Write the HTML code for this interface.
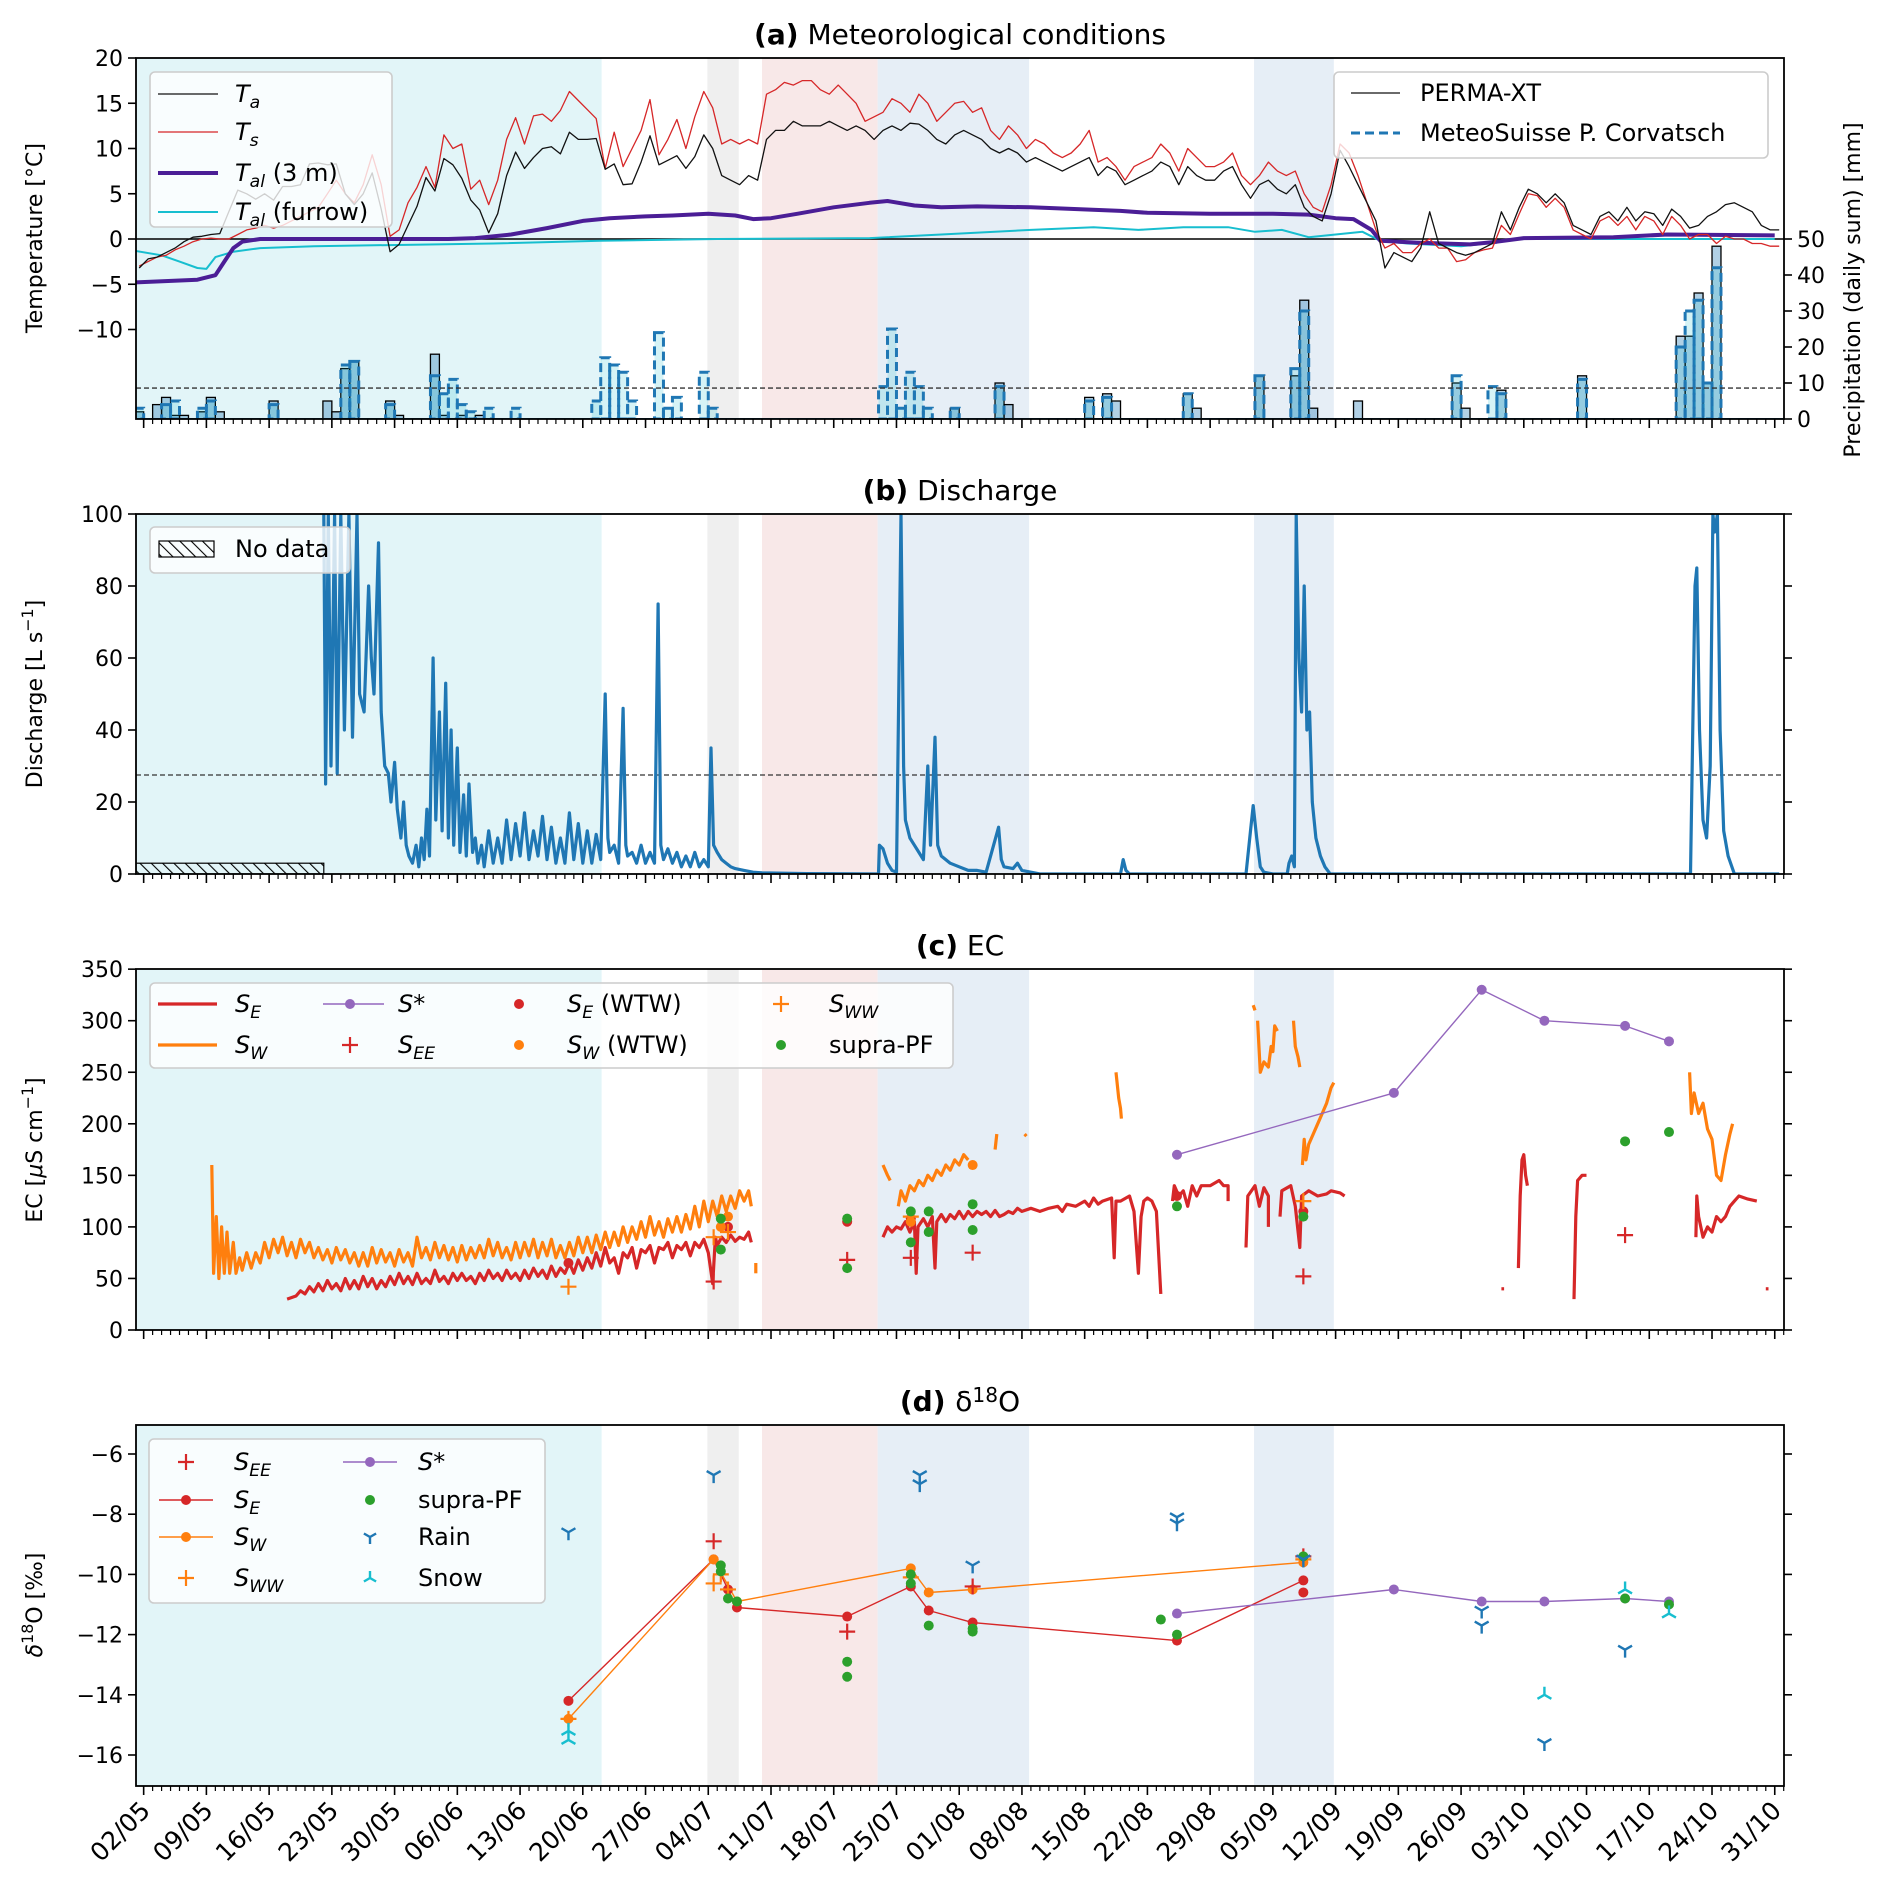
<!DOCTYPE html>
<html><head><meta charset="utf-8">
<style>
html,body{margin:0;padding:0;background:#fff;}
svg{display:block;font-family:"DejaVu Sans","Liberation Sans",sans-serif;}
</style></head>
<body>
<svg id="chart" xmlns="http://www.w3.org/2000/svg" width="1892" height="1894" viewBox="0 0 1892 1894"></svg>
<script>
// ---------- DATA ----------
const tickLabels = ["02/05","09/05","16/05","23/05","30/05","06/06","13/06","20/06","27/06","04/07","11/07","18/07","25/07","01/08","08/08","15/08","22/08","29/08","05/09","12/09","19/09","26/09","03/10","10/10","17/10","24/10","31/10"];
const tempTicks = [20,15,10,5,0,-5,-10];
const precTicks = [0,10,20,30,40,50];
const qTicks = [0,20,40,60,80,100];
const ecTicks = [0,50,100,150,200,250,300,350];
const dTicks = [-6,-8,-10,-12,-14,-16];
const periods = [[0.1,52.1,"#e2f5f8","snowmelt-period"],[63.9,67.4,"#efefef","gray-period"],[70,82.9,"#f8e8e8","pink-period"],[82.9,99.8,"#e6eef6","blue-period-1"],[124.9,133.8,"#e6eef6","blue-period-2"]];
const Ta = [-3.2,-2.2,-2,-1.5,-1,-0.3,0.2,0.3,0.5,0.6,3,5.4,5,4.4,5,4.3,5.8,5.8,6,8.3,8.4,8.2,8.3,5,3.8,5,7.3,3.3,-1.4,-0.6,1.5,3.6,6.8,5.3,8.9,8.2,6.7,4.3,3.2,0.7,2.8,7,9.6,7.8,9,10,10.2,9.4,11.8,11,11,11.1,7.7,8.3,6,6.1,8.5,11.4,8.2,8.7,9.2,7.8,9.1,11.5,10,7,6.5,6,7,6.5,11,12,12,13,12.5,12.5,12.5,13,12.5,12,12.5,12,11,12,12.5,12,12.8,12.7,12,11,10.5,11.5,12,11.5,11,10,9.5,10,9.5,8.5,9,8.5,8,7.5,8,8.5,9,7,8,7.5,6,6.5,7,7.5,8.5,8,6,8,7,6.5,6.5,7.5,8,6,4.5,6,6.5,5.5,5,6,3.5,2.5,2,5,9.8,8,6,4,2,-3.2,-1.5,-2,-2.5,-1,3,-0.5,-1,-1.5,-1.8,-1.5,-1,-0.5,3,1,3.5,5.5,5,4,5,4,1.5,1,0.5,2.5,3,2,3.5,2,3,2.8,1.5,3.3,2.5,1.2,1.5,2.5,3,3.8,4,3.5,3,1.5,1,1];
const Ts = [-3,-2.5,-2,-1.8,-1.2,-0.8,-0.3,0,0.1,0,0,0.5,1,1.2,1.5,1.2,1.5,2,2.5,3,3.5,5,6.5,5,4,6,9.3,6,0.3,1,4,5.7,8,5.7,11.5,10,10.5,5.5,6.5,3.8,6.5,11,13.4,10.5,13.6,13.8,13,14.2,16.3,15.3,14.3,13.3,7.8,11.8,8,10,12,15.4,9.3,11,13.2,10,13.5,16.3,14.5,10.5,11,10.5,11,10.5,16,16.5,17.3,17,17.5,17.5,16.5,16,17,16,15,13,13.5,14,15.5,15,14,16,15,13,14,15,15.2,14,14.5,12,11,12.5,11.5,10,11,10.5,9.5,9,9.5,10.5,12,8.5,9,8,6.5,8,8.5,9,10.5,9.5,7.5,10,9,8,8,8.5,9.5,7,6,7,8.5,7.5,7,7.5,5,3.5,3,6,10.5,9.5,7,4,1,-1,-0.5,-1.5,-1.5,-0.5,0,-1,-1,-2.5,-2.3,-1.5,-1.2,-1,1.5,0.5,2.8,5,4.8,3.5,4.5,3.5,1,0.5,0,2,2.5,1.5,2.5,1,2.5,2,0.5,2.5,1.5,0,0.5,0.5,-0.5,0.3,0,0,-0.5,-0.5,-0.8,-0.8];
const tal3Days = [0,7,9,10,11,12,14,35,38,42,46,50,53,57,60,64,67,69,71,74,78,82,84,87,90,94,100,110,113,120,127,131,134,136,138,139,143,149,152,155,165,171,183];
const tal3Vals = [-4.8,-4.5,-4,-2.5,-1,-0.3,0,0,0.1,0.5,1.2,2,2.3,2.5,2.6,2.8,2.6,2.2,2.3,2.8,3.5,4,4.2,3.7,3.5,3.6,3.5,3.1,2.9,2.8,2.8,2.7,2.3,2.2,1,-0.2,-0.4,-0.6,-0.3,0.1,0.2,0.5,0.4];
const talFDays = [0,3,5,7,8,9,11,14,20,40,52,65,82,90,100,107,112,117,122,125,128,131,134,137,139,142,148,150,152,155,183];
const talFVals = [-1.3,-1.8,-2.5,-3.2,-3.3,-2,-1.4,-1,-0.8,-0.5,-0.2,0,0.1,0.5,1,1.3,1,1.3,1.3,0.8,1,0.2,0.5,0.8,-0.2,-0.5,-0.8,-0.6,-0.2,0,0];
const permaDays = [0,2,3,4,5,7,8,9,15,21,22,23,24,28,29,33,34,36,38,91,96,97,106,108,109,117,118,125,129,130,131,136,147,148,152,161,172,173,174,175,176];
const permaVals = [2,4,6,1,1,2,6,2,5,5,2,14,16,5,1,18,1,1,1,3,10,4,6,7,5,7,3,12,12,33,3,5,10,3,8,12,23,23,35,10,48];
const meteoDays = [0,3,4,7,8,15,23,24,28,33,34,35,36,37,39,42,51,52,53,54,55,58,59,60,63,64,83,84,85,86,87,88,91,96,106,108,117,125,129,130,147,151,152,161,172,173,174,175,176];
const meteoVals = [3,4,5,3,5,4,15,16,4,12,7,11,4,2,3,3,5,17,15,13,5,24,3,6,13,3,9,25,3,13,9,3,3,9,5,6,7,12,14,30,12,9,7,11,20,30,33,10,42];
const qDays = [21.1,21.3,21.6,21.9,22.3,22.6,23,23.4,23.9,24.3,24.8,25.1,25.6,26.1,26.4,26.7,27.2,27.5,27.9,28.3,28.6,29,29.3,29.7,30,30.3,30.6,31,31.4,31.7,32,32.3,32.6,32.9,33.3,33.6,34,34.3,34.7,35,35.3,35.6,36,36.3,36.7,37,37.3,37.7,38,38.3,38.7,39,39.5,40,40.5,41,41.5,42,42.5,43,43.5,44,44.5,45,45.5,46,46.5,47,47.5,48,48.5,49,49.5,50,50.5,51,51.5,52,52.5,52.8,53,53.5,54,54.5,54.8,55,55.5,56,56.5,57,57.5,58,58.4,58.7,59,59.5,60,60.5,61,61.5,62,62.5,63,63.5,64,64.3,64.6,65,65.5,66,66.5,67,68,69,70,75,83,83.1,83.5,84,84.5,85,85.5,85.8,86,86.5,87,87.5,88,88.5,88.8,89.3,89.6,90,91,92,93,94,95,96.4,96.7,97,98,98.5,99,100,101,110,110.3,110.6,111,124,124.5,124.8,125.2,125.6,126,127,128.6,128.8,129.1,129.4,129.6,129.9,130.2,130.5,130.8,131.1,131.4,131.8,132.3,132.8,133.4,173.6,174.1,174.3,174.6,175,175.4,175.8,176.1,176.3,176.6,176.9,177.3,177.8,178.5,183.5];
const qVals = [100,25,100,30,100,28,100,40,100,38,100,50,45,80,60,50,92,45,30,28,20,31,18,10,20,8,5,3,8,2,10,4,18,5,60,15,45,12,53,10,40,8,35,6,22,5,25,6,10,3,8,2,12,3,10,3,15,4,14,5,17,4,12,5,16,4,13,3,10,3,17,4,14,3,12,3,11,4,50,10,6,8,3,46,8,5,6,3,8,3,6,3,75,8,4,7,3,6,2,5,2,6,2,4,2,35,8,6,4,3,2,1.5,1,0.5,0.3,0.1,0,8,7,3,1,0.5,100,30,15,10,8,6,4,30,8,38,8,5,3,2,1,1,0.5,13,4,2,1.5,3,1,0.5,0,0,4,1,0,0,12,19,10,2,0.5,0,0,3,5,2,100,60,45,80,40,45,20,10,5,2,0,0,80,85,40,15,10,30,100,95,100,40,12,5,0,0];
const seSegs = [
[[17,30],[18,33],[18.5,38],[19,35],[19.5,42],[20,37],[20.5,45],[21,38],[21.5,48],[22,40],[22.5,45],[23,38],[23.5,50],[24,40],[24.5,48],[25,40],[25.5,52],[26,42],[26.5,50],[27,40],[27.5,48],[28,42],[28.5,52],[29,44],[29.5,55],[30,45],[30.5,52],[31,44],[31.5,55],[32,45],[32.5,50],[33,45],[33.5,58],[34,47],[34.5,52],[35,45],[35.5,55],[36,48],[36.5,55],[37,48],[37.5,52],[38,45],[38.5,55],[39,48],[39.5,58],[40,50],[40.5,55],[41,48],[41.5,58],[42,50],[42.5,55],[43,48],[43.5,58],[44,50],[44.5,60],[45,52],[45.5,58],[46,50],[46.5,62],[47,52],[47.5,60],[48,55],[48.5,65],[49,55],[49.5,68],[50,58],[50.5,70],[51,60],[51.5,75],[52,62],[52.5,80],[53,65],[53.5,70],[54,55],[54.5,75],[55,70],[55.5,80],[56,60],[56.5,78],[57,75],[57.5,82],[58,65],[58.5,80],[59,78],[59.5,85],[60,70],[60.5,82],[61,78],[61.5,85],[62,72],[62.5,85],[63,80],[63.5,88],[64,75],[64.5,45],[64.8,90],[65,82],[65.5,90],[66,85],[66.5,92],[67,86],[67.5,90],[68,88],[68.5,95],[68.8,85]],
[[83.5,90],[84,100],[84.5,95],[85,100],[85.5,98],[86,105],[86.5,95],[87,105],[87.2,55],[87.4,100],[88,108],[88.5,100],[89,110],[89.3,60],[89.5,105],[90,112],[90.5,105],[91,112],[91.5,108],[92,115],[92.5,108],[93,115],[93.5,110],[94,115],[94.5,112],[95,115],[95.5,110],[96,116],[96.5,110],[97,112],[97.5,115],[98,113],[98.5,118],[99,115],[100,118],[101,115],[102,118],[103,120],[103.5,115],[104,122],[105,120],[106,125],[106.5,120],[107,128],[107.5,122],[108,125],[109,128],[109.3,70],[109.5,125],[110,125],[111,130],[111.5,115],[112,55],[112.3,110],[112.6,125],[113,128],[113.5,125],[114,115],[114.5,35]],
[[115.8,125],[116,140],[116.5,130],[117,135],[117.5,120],[118,140],[118.5,130],[119,140],[120,140],[121,145],[121.5,140],[122,140],[122,125]],
[[124,80],[124.2,130],[125,140],[125.5,120],[126,138],[126.5,130],[126.5,100]],
[[127.8,110],[128,135],[129,140],[129.5,120],[130,80],[130.2,130],[131,135],[132,130],[133,132],[133.5,135],[134.5,133],[135,130]],
[[152.5,40],[152.8,40]],
[[154.4,60],[154.6,130],[154.8,165],[155,170],[155.2,150],[155.4,140]],
[[160.6,30],[160.8,110],[161,145],[161.5,150],[162,150]],
[[174.2,90],[174.3,130],[174.5,110],[175,90],[175.5,100],[176,95],[176.5,110],[177,105],[177.5,110],[178,120],[178.5,125],[179,130],[180,127],[181,125]],
[[182,40],[182.3,40]]];
const swSegs = [
[[8.6,160],[8.8,55],[9.1,110],[9.4,50],[9.7,100],[10,55],[10.3,95],[10.6,55],[11,85],[11.3,55],[11.7,70],[12,58],[12.5,75],[13,60],[13.5,75],[14,65],[14.5,85],[15,70],[15.5,88],[16,75],[16.5,90],[17,72],[17.5,85],[18,70],[18.5,88],[19,75],[19.5,85],[20,70],[20.5,80],[21,68],[21.5,78],[22,65],[22.5,80],[23,68],[23.5,78],[24,65],[24.5,75],[25,62],[25.5,75],[26,62],[26.5,80],[27,65],[27.5,78],[28,66],[28.5,75],[29,62],[29.5,78],[30,66],[30.5,75],[31,62],[31.5,90],[32,70],[32.5,80],[33,68],[33.5,85],[34,70],[34.5,82],[35,68],[35.5,80],[36,66],[36.5,82],[37,68],[37.5,80],[38,70],[38.5,82],[39,70],[39.5,88],[40,72],[40.5,85],[41,70],[41.5,80],[42,68],[42.5,85],[43,70],[43.5,85],[44,72],[44.5,88],[45,70],[45.5,85],[46,72],[46.5,88],[47,70],[47.5,82],[48,70],[48.5,85],[49,72],[49.5,90],[50,75],[50.5,90],[51,75],[51.5,92],[52,78],[52.5,95],[53,80],[53.5,95],[54,82],[54.5,100],[55,85],[55.5,100],[56,88],[56.5,105],[57,90],[57.5,110],[58,92],[58.5,105],[59,90],[59.5,108],[60,95],[60.5,110],[61,95],[61.5,112],[62,98],[62.5,120],[63,100],[63.5,125],[64,105],[64.5,125],[65,110],[65.5,130],[66,115],[66.5,130],[67,118],[67.5,135],[68,125],[68.5,135],[68.8,120]],
[[69.3,65],[69.3,55]],
[[83.5,160],[84,150],[84.3,145]],
[[85.2,120],[85.5,135],[86,125],[86.5,140],[87,135],[87.5,145],[88,140],[88.5,150],[89,145],[89.5,155],[90,150],[90.5,160],[91,155],[91.5,165],[92,160],[92.5,170],[93,165]],
[[96,175],[96.2,190]],[[99.3,190],[99.5,188]],
[[109.5,250],[109.8,225],[110,215],[110.1,205]],
[[124.8,315],[125,310]],
[[125.3,300],[125.6,250],[126,260],[126.5,255],[126.8,275],[127,270],[127.2,295],[127.5,290]],
[[129.3,300],[129.5,275],[129.8,265],[130,255]],
[[130.3,160],[130.5,185],[130.7,165],[131,180],[131.5,190],[132,200],[132.5,210],[133,220],[133.5,235],[133.8,240]],
[[173.5,250],[173.7,210],[174,230],[174.5,210],[175,220],[175.5,195],[176,185],[176.5,150],[177,145],[177.5,170],[178,190],[178.3,200]]];
const starDays = [116.3,140.5,150.3,157.3,166.3,171.2];
const starEC = [170,230,330,300,295,280];
const seWtwDays = [48.4,66.2,79.5,86.6,116.3,130.4];
const seWtwEC = [65,100,105,108,130,115];
const swWtwDays = [65.4,66.2,86.6,93.5];
const swWtwEC = [100,110,105,160];
const seeEcDays = [64.6,79.5,86.6,93.5,130.4,166.3];
const seeEcVals = [47,68,70,75,52,92];
const swwEcDays = [48.4,64.6,66.2,86.6,130.4];
const swwEcVals = [42,90,95,110,125];
const supraEcDays = [65.4,65.4,79.5,79.5,86.6,86.6,88.6,88.6,93.5,93.5,116.3,130.4,166.3,171.2];
const supraEcVals = [108,78,108,60,115,85,115,95,122,97,120,110,183,192];
const seIsoDays = [48.4,64.6,66.2,67.2,79.5,86.6,88.6,93.5,116.3,130.4];
const seIsoVals = [-14.2,-9.5,-10.5,-11.1,-11.4,-10.4,-11.2,-11.6,-12.2,-10.2];
const swIsoDays = [48.4,64.6,67.2,86.6,88.6,93.5,130.4];
const swIsoVals = [-14.8,-9.5,-10.9,-9.8,-10.6,-10.5,-9.6];
const seeIsoDays = [64.6,79.5,93.5,130.4];
const seeIsoVals = [-8.9,-11.9,-10.4,-9.4];
const swwIsoDays = [48.4,64.6,65.4,66.2,86.6,130.4];
const swwIsoVals = [-14.8,-10.3,-10,-10.5,-10.1,-9.5];
const starIsoDays = [116.3,140.5,150.3,157.3,166.3,171.2];
const starIsoVals = [-11.3,-10.5,-10.9,-10.9,-10.8,-10.9];
const supraIsoDays = [65.4,65.4,66.2,67.2,79.5,79.5,86.6,86.6,88.6,93.5,93.5,114.5,116.3,130.4,166.3,171.2];
const supraIsoVals = [-9.7,-9.9,-10.8,-10.9,-12.9,-13.4,-10.0,-10.3,-11.7,-11.8,-11.9,-11.5,-12.0,-9.4,-10.8,-11.0];
const rainDays = [48.4,64.6,87.6,87.6,93.5,116.3,116.3,130.4,150.3,150.3,157.3,166.3];
const rainVals = [-8.6,-6.7,-6.7,-7.0,-9.7,-8.1,-8.3,-9.5,-11.2,-11.7,-15.6,-12.5];
const snowDays = [48.4,48.4,157.3,166.3,171.2];
const snowVals = [-15.2,-15.5,-14,-10.5,-11.3];

// ---------- SCALES ----------
const L=136, R=1784;
const X = d => 134.7 + 8.962*d;
const P = {a:[58,419], b:[514,874], c:[969,1330], d:[1425,1786]};
const yT = t => 239 - 9.05*t;
const yP = p => 419 - 3.6*p;
const yQ = q => 874 - 3.6*q;
const yE = e => 1330 - 1.031*e;
const yD = v => 1454 + (-6 - v)*30.1;

const NS="http://www.w3.org/2000/svg";
const svg=document.getElementById('chart');
function mk(tag, attrs, parent){const el=document.createElementNS(NS,tag);for(const k in attrs) el.setAttribute(k,attrs[k]);(parent||svg).appendChild(el);return el;}
function grp(name, parent){const g=mk('g',{},parent);


return g;}

const defs=mk('defs',{});
const pat=mk('pattern',{id:'hatch',patternUnits:'userSpaceOnUse',width:8,height:8,patternTransform:'rotate(-45)'},defs);
mk('line',{x1:0,y1:0,x2:0,y2:8,stroke:'#000','stroke-width':2.2},pat);
for(const k of ['a','b','c','d']){const cp=mk('clipPath',{id:'clip'+k},defs);mk('rect',{x:L,y:P[k][0],width:R-L,height:P[k][1]-P[k][0]},cp);}

function polyline(pts, stroke, width, name, parent, extra){
  const el=mk('polyline',Object.assign({points:pts.map(p=>p[0].toFixed(1)+','+p[1].toFixed(1)).join(' '),fill:'none',stroke:stroke,'stroke-width':width,'stroke-linejoin':'round'},extra||{}),parent);
  
  
  return el;
}
function text(x,y,str,size,parent,name,opts){
  const el=mk('text',Object.assign({x:x,y:y,'font-size':size,fill:'#000'},opts||{}),parent);
  el.textContent=str;
  
  
  return el;
}
function dot(x,y,r,color,parent,name){
  const el=mk('circle',{cx:x,cy:y,r:r,fill:color},parent);
  
  
  return el;
}
function plus(x,y,s,color,parent,name){
  const el=mk('path',{d:`M${x-s},${y}H${x+s}M${x},${y-s}V${y+s}`,stroke:color,'stroke-width':2.2,fill:'none'},parent);
  
  
  return el;
}
function tri(x,y,s,color,down,parent,name){
  const k=down?1:-1;
  const el=mk('path',{d:`M${x},${y}V${y+k*s}M${x},${y}L${x-s*0.87},${y-k*s*0.5}M${x},${y}L${x+s*0.87},${y-k*s*0.5}`,stroke:color,'stroke-width':2.4,fill:'none'},parent);
  
  
  return el;
}
function rich(x,y,parts,size,parent,name){
  const el=mk('text',{x:x,y:y,'font-size':size,fill:'#000'},parent);
  
  
  for(const p of parts){const t=mk('tspan',{},el);t.textContent=p[0];
    if(p[1]==='i') t.setAttribute('font-style','italic');
    if(p[1]==='sub'){t.setAttribute('font-style','italic');t.setAttribute('font-size',size*0.72);t.setAttribute('dy',6);}
    if(p[1]==='subup'){t.setAttribute('dy',-6);}
    if(p[1]==='sup'){t.setAttribute('font-size',size*0.72);t.setAttribute('dy',-9);}
    if(p[1]==='supdown'){t.setAttribute('dy',9);}
    if(p[1]==='b') t.setAttribute('font-weight','bold');
  }
  return el;
}

function panelBase(k, name, title){
  const g=grp(name);
  const [t,b]=P[k];
  mk('rect',{x:L,y:t,width:R-L,height:b-t,fill:'#fff'},g);
  for(const pr of periods){
    const r=mk('rect',{x:Math.max(L,X(pr[0])),y:t,width:X(pr[1])-Math.max(L,X(pr[0])),height:b-t,fill:pr[2]},g);
    
    
  }
  const tg=grp('x-axis-ticks-'+k,g);
  for(let d=1; d<=184; d++){
    const major=((d-1)%7===0);
    mk('line',{x1:X(d),x2:X(d),y1:b,y2:b+(major?9:5),stroke:'#000','stroke-width':major?1.6:1.2},tg);
  }
  rich(960, t-14, title, 28, g, 'panel-title-'+k).setAttribute('text-anchor','middle');
  return g;
}
function frame(k,g){
  const [t,b]=P[k];
  const f=mk('rect',{x:L,y:t,width:R-L,height:b-t,fill:'none',stroke:'#000','stroke-width':1.8},g);
  
  
}
function yAxis(k,g,ticks,scale){
  const ag=grp('y-axis-'+k,g);
  for(const v of ticks){
    const y=scale(v);
    mk('line',{x1:L-8,x2:L,y1:y,y2:y,stroke:'#000','stroke-width':1.6},ag);
    text(L-13,y+8,String(v).replace('-','\u2212'),22,ag,'y-tick-label').setAttribute('text-anchor','end');
  }
  return ag;
}
function rightTicks(g,ticks,scale){
  for(const v of ticks){const y=scale(v);mk('line',{x1:R,x2:R+8,y1:y,y2:y,stroke:'#000','stroke-width':1.6},g);}
}
function yLabel(parts,x,y,g,name){
  const el=rich(0,0,parts,22,g,name);
  el.setAttribute('text-anchor','middle');
  el.setAttribute('transform',`translate(${x},${y}) rotate(-90)`);
}
function legendBox(x,y,w,h,g,name){
  const r=mk('rect',{x:x,y:y,width:w,height:h,rx:5,fill:'rgba(255,255,255,0.8)',stroke:'#cccccc','stroke-width':1.6},g);
  
  
}

// ======== PANEL A ========
const ga=panelBase('a','panel-meteorological',[['(a)','b'],[' Meteorological conditions','']]);
const ca=grp('panel-a-plot',ga); ca.setAttribute('clip-path','url(#clipa)');
for(let i=0;i<permaDays.length;i++){
  const r=mk('rect',{x:X(permaDays[i]),y:yP(permaVals[i]),width:8.96,height:yP(0)-yP(permaVals[i]),fill:'rgba(31,119,180,0.35)',stroke:'#000','stroke-width':1.3},ca);
  
  
}
for(let i=0;i<meteoDays.length;i++){
  const r=mk('rect',{x:X(meteoDays[i]),y:yP(meteoVals[i]),width:8.96,height:yP(0)-yP(meteoVals[i]),fill:'rgba(23,190,207,0.18)',stroke:'#1f77b4','stroke-width':3,'stroke-dasharray':'9,5'},ca);
  
  
}
mk('line',{x1:L,x2:R,y1:yP(0),y2:yP(0),stroke:'#1f77b4','stroke-width':2},ca);
const thr=mk('line',{x1:L,x2:R,y1:yP(8.6),y2:yP(8.6),stroke:'#333','stroke-width':1.3,'stroke-dasharray':'5,3'},ca);


mk('line',{x1:L,x2:R,y1:yT(0),y2:yT(0),stroke:'#000','stroke-width':1.6},ca);
polyline(talFDays.map((d,i)=>[X(d),yT(talFVals[i])]),'#17becf',2,'tal-furrow-line',ca);
polyline(tal3Days.map((d,i)=>[X(d),yT(tal3Vals[i])]),'#4b1e96',4,'tal-3m-line',ca);
polyline(Ts.map((v,i)=>[X(i+0.5),yT(v)]),'#d62728',1.3,'ts-line',ca);
polyline(Ta.map((v,i)=>[X(i+0.5),yT(v)]),'#111',1.3,'ta-line',ca);
yAxis('a',ga,tempTicks,yT);
for(const v of precTicks){const y=yP(v);mk('line',{x1:R,x2:R+8,y1:y,y2:y,stroke:'#000','stroke-width':1.6},ga);text(R+13,y+8,String(v),22,ga,'precip-tick-label');}
yLabel([['Temperature [°C]','']],42,238,ga,'temperature-axis-title');
yLabel([['Precipitation (daily sum) [mm]','']],1860,290,ga,'precip-axis-title');
const la=grp('legend-temperature',ga);
legendBox(150,72,242,155,la,'legend-box');
const laItems=[['#111',1.3,[['T','i'],['a','sub']]],['#d62728',1.3,[['T','i'],['s','sub']]],['#4b1e96',4,[['T','i'],['al','sub'],[' (3 m)','subup']]],['#17becf',2,[['T','i'],['al','sub'],[' (furrow)','subup']]]];
[94,132,173,212].forEach((y,i)=>{const it=laItems[i];polyline([[158,y],[218,y]],it[0],it[1],'legend-line',la);rich(235,y+8,it[2],24,la,'legend-label');});
const lb=grp('legend-precip',ga);
legendBox(1334,72,434,86,lb,'legend-box');
polyline([[1351,93],[1400,93]],'#111',1.3,'legend-line',lb);
text(1420,101,'PERMA-XT',24,lb,'legend-label');
polyline([[1351,133],[1400,133]],'#1f77b4',3,'legend-line',lb,{'stroke-dasharray':'9,5'});
text(1420,141,'MeteoSuisse P. Corvatsch',24,lb,'legend-label');
frame('a',ga);

// ======== PANEL B ========
const gb=panelBase('b','panel-discharge',[['(b)','b'],[' Discharge','']]);
const cb=grp('panel-b-plot',gb); cb.setAttribute('clip-path','url(#clipb)');
const nd=mk('rect',{x:L,y:yQ(3),width:X(21.1)-L,height:yQ(0)-yQ(3),fill:'url(#hatch)',stroke:'#000','stroke-width':1.2},cb);


mk('line',{x1:L,x2:R,y1:yQ(27.5),y2:yQ(27.5),stroke:'#333','stroke-width':1.3,'stroke-dasharray':'5,3'},cb);
polyline(qDays.map((d,i)=>[X(d),yQ(Math.min(qVals[i],101))]),'#1f77b4',3.2,'discharge-line',cb);
yAxis('b',gb,qTicks,yQ); rightTicks(gb,qTicks,yQ);
yLabel([['Discharge [L s','' ],['−1','sup'],[']','supdown']],42,694,gb,'discharge-axis-title');
const lgb=grp('legend-discharge',gb);
legendBox(150,527,200,46,lgb,'legend-box');
mk('rect',{x:159,y:541,width:55,height:16,fill:'url(#hatch)',stroke:'#000','stroke-width':1.2},lgb);
text(235,557,'No data',24,lgb,'legend-label');
frame('b',gb);

// ======== PANEL C ========
const gc=panelBase('c','panel-ec',[['(c)','b'],[' EC','']]);
const cc=grp('panel-c-plot',gc); cc.setAttribute('clip-path','url(#clipc)');
for(const s of swSegs) polyline(s.map(p=>[X(p[0]),yE(p[1])]),'#ff7f0e',3.2,'sw-ec-line',cc);
for(const s of seSegs) polyline(s.map(p=>[X(p[0]),yE(p[1])]),'#d62728',3.2,'se-ec-line',cc);
polyline(starDays.map((d,i)=>[X(d),yE(starEC[i])]),'#9467bd',1.4,'sstar-ec-line',cc);
starDays.forEach((d,i)=>dot(X(d),yE(starEC[i]),5,'#9467bd',cc,'sstar-ec-point'));
seWtwDays.forEach((d,i)=>dot(X(d),yE(seWtwEC[i]),5,'#d62728',cc,'se-wtw-point'));
swWtwDays.forEach((d,i)=>dot(X(d),yE(swWtwEC[i]),5,'#ff7f0e',cc,'sw-wtw-point'));
seeEcDays.forEach((d,i)=>plus(X(d),yE(seeEcVals[i]),8,'#d62728',cc,'see-ec-point'));
swwEcDays.forEach((d,i)=>plus(X(d),yE(swwEcVals[i]),8,'#ff7f0e',cc,'sww-ec-point'));
supraEcDays.forEach((d,i)=>dot(X(d),yE(supraEcVals[i]),5,'#2ca02c',cc,'supra-pf-ec-point'));
yAxis('c',gc,ecTicks,yE); rightTicks(gc,ecTicks,yE);
yLabel([['EC [','' ],['μ','i'],['S cm',''],['−1','sup'],[']','supdown']],42,1150,gc,'ec-axis-title');
const lgc=grp('legend-ec',gc);
legendBox(150,983,803,85,lgc,'legend-box');
polyline([[158,1004],[217,1004]],'#d62728',3.2,'legend-line',lgc); rich(235,1012,[['S','i'],['E','sub']],24,lgc,'legend-label');
polyline([[158,1045],[217,1045]],'#ff7f0e',3.2,'legend-line',lgc); rich(235,1053,[['S','i'],['W','sub']],24,lgc,'legend-label');
polyline([[323,1004],[384,1004]],'#9467bd',1.4,'legend-line',lgc); dot(350,1004,5,'#9467bd',lgc,'legend-marker'); rich(398,1012,[['S*','i']],24,lgc,'legend-label');
plus(350,1045,8,'#d62728',lgc,'legend-marker'); rich(398,1053,[['S','i'],['EE','sub']],24,lgc,'legend-label');
dot(519,1004,5,'#d62728',lgc,'legend-marker'); rich(567,1012,[['S','i'],['E','sub'],[' (WTW)','subup']],24,lgc,'legend-label');
dot(519,1045,5,'#ff7f0e',lgc,'legend-marker'); rich(567,1053,[['S','i'],['W','sub'],[' (WTW)','subup']],24,lgc,'legend-label');
plus(781,1004,8,'#ff7f0e',lgc,'legend-marker'); rich(829,1012,[['S','i'],['WW','sub']],24,lgc,'legend-label');
dot(781,1045,5,'#2ca02c',lgc,'legend-marker'); text(829,1053,'supra-PF',24,lgc,'legend-label');
frame('c',gc);

// ======== PANEL D ========
const gd=panelBase('d','panel-d18o',[['(d) ','b'],['δ','bi'],['18','sup'],['O','supdown']]);
const cd=grp('panel-d-plot',gd); cd.setAttribute('clip-path','url(#clipd)');
polyline(seIsoDays.map((d,i)=>[X(d),yD(seIsoVals[i])]),'#d62728',1.4,'se-d18o-line',cd);
polyline(swIsoDays.map((d,i)=>[X(d),yD(swIsoVals[i])]),'#ff7f0e',1.4,'sw-d18o-line',cd);
polyline(starIsoDays.map((d,i)=>[X(d),yD(starIsoVals[i])]),'#9467bd',1.4,'sstar-d18o-line',cd);
seIsoDays.forEach((d,i)=>dot(X(d),yD(seIsoVals[i]),5,'#d62728',cd,'se-d18o-point'));
dot(X(130.4),yD(-10.6),5,'#d62728',cd,'se-d18o-point');
swIsoDays.forEach((d,i)=>dot(X(d),yD(swIsoVals[i]),5,'#ff7f0e',cd,'sw-d18o-point'));
starIsoDays.forEach((d,i)=>dot(X(d),yD(starIsoVals[i]),5,'#9467bd',cd,'sstar-d18o-point'));
seeIsoDays.forEach((d,i)=>plus(X(d),yD(seeIsoVals[i]),8,'#d62728',cd,'see-d18o-point'));
swwIsoDays.forEach((d,i)=>plus(X(d),yD(swwIsoVals[i]),8,'#ff7f0e',cd,'sww-d18o-point'));
supraIsoDays.forEach((d,i)=>dot(X(d),yD(supraIsoVals[i]),5,'#2ca02c',cd,'supra-pf-d18o-point'));
rainDays.forEach((d,i)=>tri(X(d),yD(rainVals[i]),8,'#1f77b4',true,cd,'rain-d18o-point'));
snowDays.forEach((d,i)=>tri(X(d),yD(snowVals[i]),8,'#17becf',false,cd,'snow-d18o-point'));
yAxis('d',gd,dTicks,yD); rightTicks(gd,dTicks,yD);
yLabel([['δ','i'],['18','sup'],['O [‰]','supdown']],42,1605,gd,'d18o-axis-title');
const lgd=grp('legend-d18o',gd);
legendBox(149,1439,396,164,lgd,'legend-box');
plus(186,1462,8,'#d62728',lgd,'legend-marker'); rich(234,1470,[['S','i'],['EE','sub']],24,lgd,'legend-label');
polyline([[159,1500],[213,1500]],'#d62728',1.4,'legend-line',lgd); dot(186,1500,5,'#d62728',lgd,'legend-marker'); rich(234,1508,[['S','i'],['E','sub']],24,lgd,'legend-label');
polyline([[159,1537],[213,1537]],'#ff7f0e',1.4,'legend-line',lgd); dot(186,1537,5,'#ff7f0e',lgd,'legend-marker'); rich(234,1545,[['S','i'],['W','sub']],24,lgd,'legend-label');
plus(186,1578,8,'#ff7f0e',lgd,'legend-marker'); rich(234,1586,[['S','i'],['WW','sub']],24,lgd,'legend-label');
polyline([[343,1462],[397,1462]],'#9467bd',1.4,'legend-line',lgd); dot(370,1462,5,'#9467bd',lgd,'legend-marker'); rich(418,1470,[['S*','i']],24,lgd,'legend-label');
dot(370,1500,5,'#2ca02c',lgd,'legend-marker'); text(418,1508,'supra-PF',24,lgd,'legend-label');
tri(370,1537,7,'#1f77b4',true,lgd,'legend-marker'); text(418,1545,'Rain',24,lgd,'legend-label');
tri(370,1578,7,'#17becf',false,lgd,'legend-marker'); text(418,1586,'Snow',24,lgd,'legend-label');
frame('d',gd);

// x tick labels
const xl=grp('x-axis-labels');
tickLabels.forEach((s,i)=>{
  const x=X(1+7*i);
  const el=mk('text',{x:0,y:0,'font-size':25,'text-anchor':'end',transform:`translate(${x+8},${1812}) rotate(-45)`},xl);
  el.textContent=s;
  
  
});
</script>
</body></html>
